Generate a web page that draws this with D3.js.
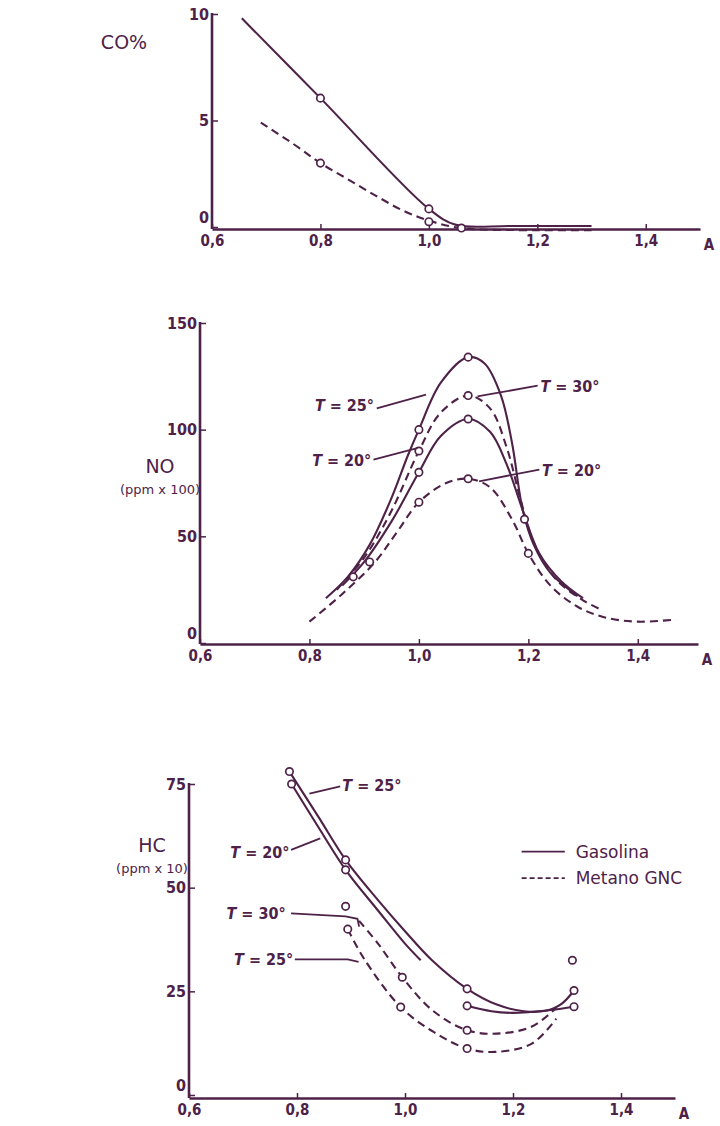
<!DOCTYPE html>
<html>
<head>
<meta charset="utf-8">
<script src="https://cdn.jsdelivr.net/npm/d3@7"></script>
<style>
  body { margin: 0; background: #fff; }
  svg text { font-family: "DejaVu Sans Condensed", "DejaVu Sans", sans-serif; fill: #4e2248; }
</style>
</head>
<body>
<svg id="chart" width="720" height="1126"></svg>
<script>
var ink = "#4e2248";

// x ticks (lambda) shared by the three panels
var aTicks = [0.6, 0.8, 1.0, 1.2, 1.4];

// CO % panel
var coTicks = [0, 5, 10];
var coGasolina = [[0.655, 9.8], [0.8, 6.05], [1.0, 0.85], [1.05, 0.1], [1.15, 0.05], [1.3, 0.05]];
var coGasolinaPts = [[0.8, 6.05], [1.0, 0.85]];
var coMetano = [[0.69, 4.9], [0.75, 3.9], [0.8, 3.0], [0.85, 2.25], [0.9, 1.5], [0.95, 0.8], [1.0, 0.3], [1.06, -0.05], [1.2, -0.15], [1.3, -0.15]];
var coMetanoPts = [[0.8, 3.0], [1.0, 0.25], [1.06, -0.05]];

// NO panel (ppm x 100)
var noTicks = [0, 50, 100, 150];
var noGas25 = [[0.83, 21], [0.87, 31], [0.91, 46], [0.95, 68], [0.98, 88], [1.0, 100], [1.04, 122], [1.09, 134], [1.12, 131], [1.15, 116], [1.17, 94], [1.19, 62], [1.21, 46], [1.24, 33], [1.29, 22]];
var noGas25Pts = [[1.0, 100], [1.09, 134], [1.193, 58], [0.88, 31]];
var noGas20 = [[0.86, 27], [0.9, 38], [0.95, 57], [1.0, 80], [1.04, 97], [1.09, 105], [1.13, 99], [1.16, 84], [1.19, 62], [1.22, 42], [1.26, 29], [1.3, 21]];
var noGas20Pts = [[1.0, 80], [1.09, 105]];
var noMet30 = [[0.85, 25], [0.9, 40], [0.95, 62], [1.0, 90], [1.04, 108], [1.09, 116], [1.13, 110], [1.16, 92], [1.185, 68], [1.21, 47], [1.25, 30], [1.3, 20], [1.33, 16]];
var noMet30Pts = [[1.0, 90], [1.09, 116], [0.91, 38]];
var noMet20 = [[0.8, 10], [0.86, 23], [0.92, 38], [0.96, 52], [1.0, 66], [1.05, 75], [1.09, 77], [1.13, 73], [1.17, 58], [1.2, 42], [1.24, 27], [1.29, 17], [1.34, 12], [1.4, 10], [1.47, 11]];
var noMet20Pts = [[1.0, 66], [1.09, 77], [1.2, 42]];

// HC panel (ppm x 10)
var hcTicks = [0, 25, 50, 75];
var hcGas25 = [[0.786, 78], [0.84, 67], [0.89, 56.7], [0.95, 47], [1.0, 39.5], [1.05, 32.5], [1.115, 25.6], [1.17, 21.8], [1.22, 20.2], [1.26, 20.3], [1.29, 22], [1.313, 25.2]];
var hcGas25Pts = [[0.786, 78], [0.89, 56.7], [1.115, 25.6], [1.313, 25.2], [1.31, 32.5]];
var hcGas20 = [[0.79, 75], [0.84, 64.5], [0.89, 54.3], [0.95, 44.5], [1.0, 36.5], [1.029, 32.5], [1.07, null], [1.115, 21.5], [1.16, 20.2], [1.2, 19.8], [1.27, 20.5], [1.313, 21.3]];
var hcGas20Pts = [[0.79, 75], [0.89, 54.3], [1.115, 21.5], [1.313, 21.3]];
var hcMet30 = [[0.915, 42], [0.95, 36.5], [0.995, 28.4], [1.05, 20.5], [1.115, 15.6], [1.17, 14.8], [1.235, 16.5], [1.28, 21]];
var hcMet30Pts = [[0.89, 45.5], [0.995, 28.4], [1.115, 15.6]];
var hcMet25 = [[0.894, 40], [0.925, 32.7], [0.992, 21.2], [1.053, 15.2], [1.115, 11.2], [1.168, 10.4], [1.235, 12.4], [1.28, 18.4]];
var hcMet25Pts = [[0.894, 40], [0.992, 21.2], [1.115, 11.2]];

var svg = d3.select("#chart");
var fmtA = function(d) { return d3.format(".1f")(d).replace(".", ","); };

// one panel: axes, curves, circles
function buildPanel(p) {
  var x = d3.scaleLinear().domain([0.6, p.aMax]).range([p.left, p.right]);
  var y = d3.scaleLinear().domain([0, p.yMax]).range([p.y0, p.yTop]);
  var g = svg.append("g");

  // x axis
  var xa = g.append("g")
    .attr("transform", "translate(0," + p.axisY + ")")
    .call(d3.axisBottom(x).tickValues(aTicks).tickSizeInner(-5).tickSizeOuter(0).tickPadding(6).tickFormat(fmtA));
  xa.select(".domain").attr("stroke", ink).attr("stroke-width", 2.4);
  xa.selectAll(".tick line").attr("stroke", ink).attr("stroke-width", 1.5);
  xa.selectAll(".tick text").attr("font-size", 15).attr("font-weight", "bold").attr("fill", ink);
  xa.append("text").attr("x", x(p.aMax) + 9).attr("y", 21)
    .attr("font-size", 15).attr("font-weight", "bold").attr("fill", ink).text("A");

  // y axis
  var ya = g.append("g")
    .attr("transform", "translate(" + p.left + ",0)")
    .call(d3.axisLeft(y).tickValues(p.yTicks).tickSizeInner(-6).tickSizeOuter(0).tickPadding(3));
  ya.select(".domain").attr("stroke", ink).attr("stroke-width", 2.6)
    .attr("d", "M0," + p.axisY + "V" + (y(p.yMax) - 1));
  ya.selectAll(".tick line").attr("stroke", ink).attr("stroke-width", 1.5);
  ya.selectAll(".tick text").attr("font-size", 16).attr("font-weight", "bold").attr("fill", ink)
    .attr("dy", function(d) { return d === 0 ? "-0.3em" : "0.32em"; });

  // axis title
  var t = g.append("text").attr("text-anchor", "middle").attr("fill", ink)
    .style("font-family", "'DejaVu Sans', sans-serif");
  p.title.forEach(function(s, i) {
    t.append("tspan").attr("x", p.titleX).attr("y", p.titleY + i * 21)
      .attr("font-size", i === 0 ? 19 : 13).text(s);
  });

  var line = d3.line()
    .defined(function(d) { return d[1] !== null; })
    .x(function(d) { return x(d[0]); })
    .y(function(d) { return y(d[1]); })
    .curve(d3.curveCatmullRom.alpha(0.5));

  p.series.forEach(function(s) {
    g.append("path").datum(s.data)
      .attr("fill", "none").attr("stroke", ink).attr("stroke-width", 2.1)
      .attr("stroke-dasharray", s.dash ? "8,5" : null)
      .attr("d", line);
  });
  p.series.forEach(function(s) {
    g.selectAll(null).data(s.pts).enter().append("circle")
      .attr("cx", function(d) { return x(d[0]); })
      .attr("cy", function(d) { return y(d[1]); })
      .attr("r", 3.7)
      .attr("fill", "#fff").attr("stroke", ink).attr("stroke-width", 1.7);
  });

  // T labels with leader lines
  (p.notes || []).forEach(function(n) {
    g.append("path")
      .attr("d", d3.line().x(function(d) { return x(d[0]); }).y(function(d) { return y(d[1]); })(n.lead))
      .attr("fill", "none").attr("stroke", ink).attr("stroke-width", 1.8);
    var tx = g.append("text").attr("x", x(n.at[0])).attr("y", y(n.at[1]) + 6)
      .attr("text-anchor", n.anchor).attr("font-size", 16).attr("font-weight", "bold").attr("fill", ink);
    tx.append("tspan").attr("font-style", "italic").text("T");
    tx.append("tspan").text(" = " + n.val + "\u00b0");
  });
  return { x: x, y: y, g: g };
}

buildPanel({
  left: 212, right: 700, aMax: 1.5, axisY: 229, y0: 227, yTop: 14, yMax: 10, yTicks: coTicks,
  title: ["CO%"], titleX: 124, titleY: 49,
  series: [
    { data: coGasolina, pts: coGasolinaPts, dash: false },
    { data: coMetano, pts: coMetanoPts, dash: true }
  ]
});

buildPanel({
  left: 200, right: 698, aMax: 1.51, axisY: 644, y0: 643, yTop: 323, yMax: 150, yTicks: noTicks,
  title: ["NO", "(ppm x 100)"], titleX: 160, titleY: 473,
  series: [
    { data: noGas25, pts: noGas25Pts, dash: false },
    { data: noGas20, pts: noGas20Pts, dash: false },
    { data: noMet30, pts: noMet30Pts, dash: true },
    { data: noMet20, pts: noMet20Pts, dash: true }
  ],
  notes: [
    { val: 25, at: [0.918, 111.7], anchor: "end", lead: [[0.923, 110], [1.013, 116.4]] },
    { val: 20, at: [0.913, 86], anchor: "end", lead: [[0.917, 86], [0.997, 91.4]] },
    { val: 30, at: [1.222, 120.6], anchor: "start", lead: [[1.107, 115.6], [1.217, 120.6]] },
    { val: 20, at: [1.225, 81.3], anchor: "start", lead: [[1.11, 75.8], [1.22, 81.3]] }
  ]
});

var hc = buildPanel({
  left: 189, right: 675, aMax: 1.5, axisY: 1098, y0: 1095, yTop: 784, yMax: 75, yTicks: hcTicks,
  title: ["HC", "(ppm x 10)"], titleX: 152, titleY: 852,
  series: [
    { data: hcGas25, pts: hcGas25Pts, dash: false },
    { data: hcGas20, pts: hcGas20Pts, dash: false },
    { data: hcMet30, pts: hcMet30Pts, dash: true },
    { data: hcMet25, pts: hcMet25Pts, dash: true }
  ],
  notes: [
    { val: 25, at: [0.884, 74.7], anchor: "start", lead: [[0.823, 72.7], [0.88, 74.4]] },
    { val: 20, at: [0.786, 58.7], anchor: "end", lead: [[0.789, 59.1], [0.843, 61.9]] },
    { val: 30, at: [0.779, 43.8], anchor: "end", lead: [[0.789, 43.8], [0.89, 43.1], [0.912, 42.5], [0.915, 40.6]] },
    { val: 25, at: [0.793, 32.7], anchor: "end", lead: [[0.796, 32.7], [0.894, 32.7], [0.914, 32.1]] }
  ]
});

// legend
var legend = [{ name: "Gasolina", dash: false, v: 58.7 }, { name: "Metano GNC", dash: true, v: 52.3 }];
legend.forEach(function(l) {
  hc.g.append("line")
    .attr("x1", hc.x(1.216)).attr("x2", hc.x(1.296))
    .attr("y1", hc.y(l.v)).attr("y2", hc.y(l.v))
    .attr("stroke", ink).attr("stroke-width", 1.8)
    .attr("stroke-dasharray", l.dash ? "5,3" : null);
  hc.g.append("text").attr("x", hc.x(1.316)).attr("y", hc.y(l.v) + 6)
    .attr("font-size", 17).attr("fill", ink)
    .style("font-family", "'DejaVu Sans', sans-serif").text(l.name);
});
</script>
</body>
</html>
